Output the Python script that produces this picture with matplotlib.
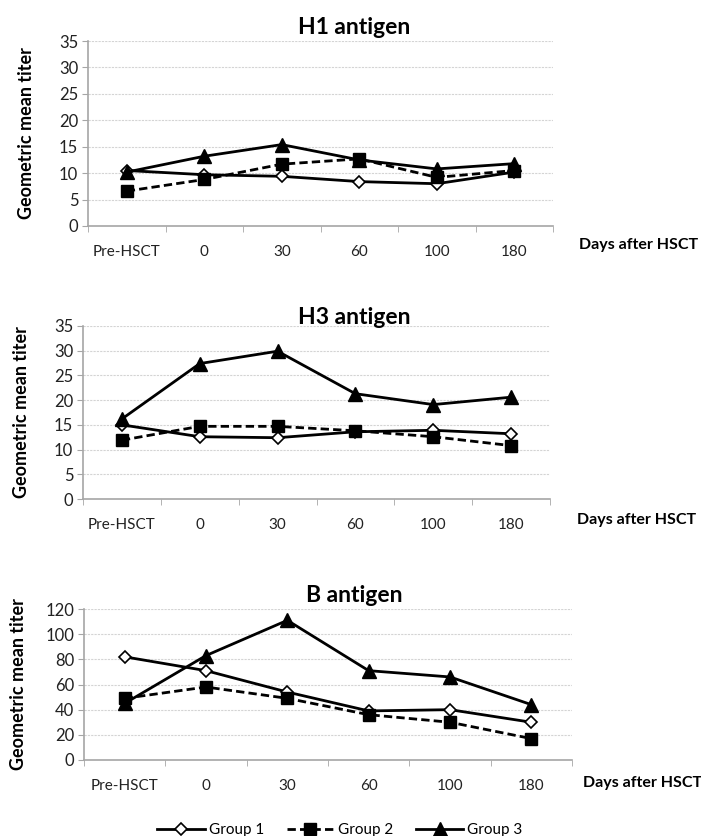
import matplotlib.pyplot as plt

# categories on the x axis
days = ["Pre-HSCT", "0", "30", "60", "100", "180"]

# geometric mean titers
h1_group1 = [10.5, 9.7, 9.4, 8.4, 8.0, 10.2]
h1_group2 = [6.6, 8.8, 11.7, 12.7, 9.2, 10.5]
h1_group3 = [10.2, 13.2, 15.4, 12.5, 10.8, 11.8]

h3_group1 = [15.0, 12.6, 12.4, 13.6, 13.9, 13.2]
h3_group2 = [11.9, 14.7, 14.7, 13.8, 12.6, 10.8]
h3_group3 = [16.2, 27.4, 29.9, 21.3, 19.1, 20.6]

b_group1 = [82, 71, 54, 39, 40, 30]
b_group2 = [49, 58, 49, 36, 30, 17]
b_group3 = [45, 83, 111, 71, 66, 44]

plt.rcParams['font.family'] = ['Lato', 'DejaVu Sans']

W, H = 701, 836
fig = plt.figure(figsize=(W / 100, H / 100), dpi=100)

def px_rect(x0, x1, ytop, ybot):
    return [x0 / W, 1 - ybot / H, (x1 - x0) / W, (ybot - ytop) / H]

# title, axes box (px), series, ymax, step, title y, ylabel x, days-label (x, y)
panels = [
    ("H1 antigen", px_rect(88, 553, 41, 226), (h1_group1, h1_group2, h1_group3), 35, 5,
     27, 27, (579, 245)),
    ("H3 antigen", px_rect(83, 550, 326, 499), (h3_group1, h3_group2, h3_group3), 35, 5,
     317, 22, (577, 520)),
    ("B antigen", px_rect(84, 572, 609, 760), (b_group1, b_group2, b_group3), 120, 20,
     595, 19, (583, 783)),
]

grid_col = "#d4d4d4"
axis_col = "#a6a6a6"
x = list(range(len(days)))

for title, rect, (g1, g2, g3), ymax, step, ty, lx, (dx, dy) in panels:
    ax = fig.add_axes(rect)
    ax.plot(x, g1, color="black", lw=2, marker="D", ms=6.5, mfc="white", mec="black", mew=1.2,
            label="Group 1", zorder=3)
    ax.plot(x, g2, color="black", lw=2, ls=(0, (3, 1.5)), marker="s", ms=9, mfc="black",
            label="Group 2", zorder=4)
    ax.plot(x, g3, color="black", lw=2, marker="^", ms=9.5, mfc="black",
            label="Group 3", zorder=5)

    ax.set_xlim(-0.5, len(days) - 0.5)
    ax.set_ylim(0, ymax)
    ax.set_yticks(range(0, ymax + 1, step))
    ax.set_xticks(x)
    ax.set_xticklabels(days)
    ax.set_xticks([i - 0.5 for i in range(len(days) + 1)], minor=True)
    ax.tick_params(axis="x", which="major", length=0, pad=14, labelsize=11, labelcolor="#222222")
    ax.tick_params(axis="x", which="minor", length=4, color=axis_col, direction="out")
    ax.tick_params(axis="y", length=4, color=axis_col, labelsize=12, pad=3, labelcolor="#222222")
    ax.yaxis.grid(True, color=grid_col, lw=0.8, ls=(0, (2, 1)))
    ax.set_axisbelow(True)
    for s in ("top", "right"):
        ax.spines[s].set_visible(False)
    for s in ("left", "bottom"):
        ax.spines[s].set_color(axis_col)
        ax.spines[s].set_linewidth(1.2)

    fig.text(354 / W, 1 - ty / H, title, fontsize=16.5, fontweight="bold", ha="center", va="center")
    y_mid = rect[1] + rect[3] / 2
    fig.text(lx / W, y_mid, "Geometric mean titer", fontsize=13, fontweight="bold",
             rotation=90, ha="center", va="center")
    fig.text(dx / W, 1 - dy / H, "Days after HSCT", fontsize=11.5, fontweight="bold",
             ha="left", va="center")

handles, labels = ax.get_legend_handles_labels()
fig.legend(handles, labels, loc="center", bbox_to_anchor=(0.485, 0.007), ncol=3, frameon=False,
           fontsize=11, handlelength=3.1, columnspacing=1.5, handletextpad=0.25)

fig.savefig("out.png", dpi=100)
